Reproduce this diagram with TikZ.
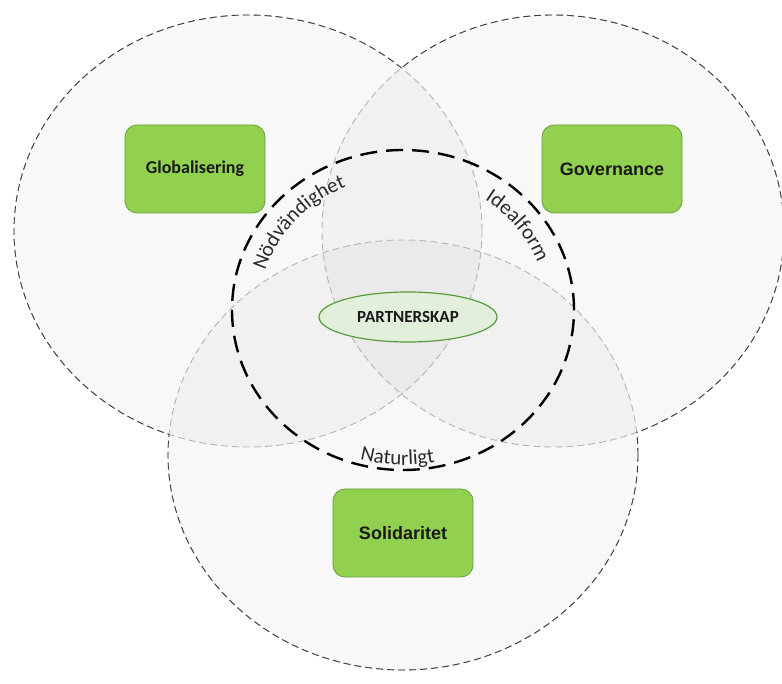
\documentclass[tikz,border=0pt]{standalone}
\usepackage{fontspec}
\setmainfont{Carlito}
\newfontfamily\arialb{Liberation Sans}
\usetikzlibrary{decorations.text,shapes.geometric}
\definecolor{boxfill}{HTML}{92D050}
\definecolor{boxline}{HTML}{6A9F3A}
\definecolor{partfill}{HTML}{E2EFDA}
\definecolor{partline}{HTML}{5B9B3C}
\definecolor{darkdash}{HTML}{404040}
\definecolor{lightdash}{HTML}{B4B4B4}
\definecolor{arctxt}{HTML}{2B2B2B}
\newcommand\arcfont{\fontsize{21}{21}\selectfont\color{arctxt}}
\tikzset{
 venn/.style={fill=black, fill opacity=0.028, draw=none},
 thindash/.style={line width=0.9pt, dash pattern=on 7pt off 4pt},
 bolddash/.style={line width=2.4pt, dash pattern=on 17pt off 9pt, draw=black},
 greenbox/.style={draw=boxline, fill=boxfill, rounded corners=12pt, line width=0.8pt, minimum width=140pt, minimum height=88pt, inner sep=0pt, text=black!90},
 partbox/.style={ellipse, draw=partline, fill=partfill, line width=1.2pt, minimum width=178pt, minimum height=50pt, inner sep=0pt, text=black!90}
}
\begin{document}
\begin{tikzpicture}[x=1pt,y=1pt]
\useasboundingbox[fill=white] (0,0) rectangle (782,683);
% fills
\fill[venn] (248,452) ellipse [x radius=234, y radius=216];
\fill[venn] (553,452) ellipse [x radius=231, y radius=216];
\fill[venn] (403,228) ellipse [x radius=235, y radius=215];
% light borders (inner parts)
\draw[thindash, lightdash] (248,452) ellipse [x radius=234, y radius=216];
\draw[thindash, lightdash] (553,452) ellipse [x radius=231, y radius=216];
\draw[thindash, lightdash] (403,228) ellipse [x radius=235, y radius=215];
% dark borders (outer parts)
\begin{scope}
 \clip (-10,-10) -- (-10,693) -- (792,693) -- (792,-10) -- cycle (553,452) ellipse [x radius=231, y radius=216];
 \clip (-10,-10) -- (-10,693) -- (792,693) -- (792,-10) -- cycle (403,228) ellipse [x radius=235, y radius=215];
 \draw[thindash, darkdash] (248,452) ellipse [x radius=234, y radius=216];
\end{scope}
\begin{scope}
 \clip (-10,-10) -- (-10,693) -- (792,693) -- (792,-10) -- cycle (248,452) ellipse [x radius=234, y radius=216];
 \clip (-10,-10) -- (-10,693) -- (792,693) -- (792,-10) -- cycle (403,228) ellipse [x radius=235, y radius=215];
 \draw[thindash, darkdash] (553,452) ellipse [x radius=231, y radius=216];
\end{scope}
\begin{scope}
 \clip (-10,-10) -- (-10,693) -- (792,693) -- (792,-10) -- cycle (248,452) ellipse [x radius=234, y radius=216];
 \clip (-10,-10) -- (-10,693) -- (792,693) -- (792,-10) -- cycle (553,452) ellipse [x radius=231, y radius=216];
 \draw[thindash, darkdash] (403,228) ellipse [x radius=235, y radius=215];
\end{scope}
% bold central circle
\draw[bolddash] (403,373) ellipse [x radius=171, y radius=160];
% texts along the bold circle
\path[decorate, decoration={text along path, text align=center, text={|\arcfont|Nödvändighet}}]
  (403,373) ++(175:144 and 134) arc[start angle=175, end angle=102, x radius=144, y radius=134];
\path[decorate, decoration={text along path, text align=center, text={|\arcfont|Idealform}}]
  (403,373) ++(74:144 and 134) arc[start angle=74, end angle=1, x radius=144, y radius=134];
\path[decorate, decoration={text along path, text align=center, text={|\arcfont|Naturligt}}]
  (403,373) ++(238:165 and 155) arc[start angle=238, end angle=298, x radius=165, y radius=155];
% boxes
\node[greenbox, font=\bfseries\fontsize{18}{20}\selectfont] (glob) at (195,514) {Globalisering};
\node[greenbox, font=\arialb\bfseries\fontsize{18}{20}\selectfont] (gov) at (612,514) {Governance};
\node[greenbox, font=\arialb\bfseries\fontsize{18}{20}\selectfont] (sol) at (403,150) {Solidaritet};
\node[partbox, font=\bfseries\fontsize{17}{19}\selectfont] (part) at (408,366) {PARTNERSKAP};
\end{tikzpicture}
\end{document}
